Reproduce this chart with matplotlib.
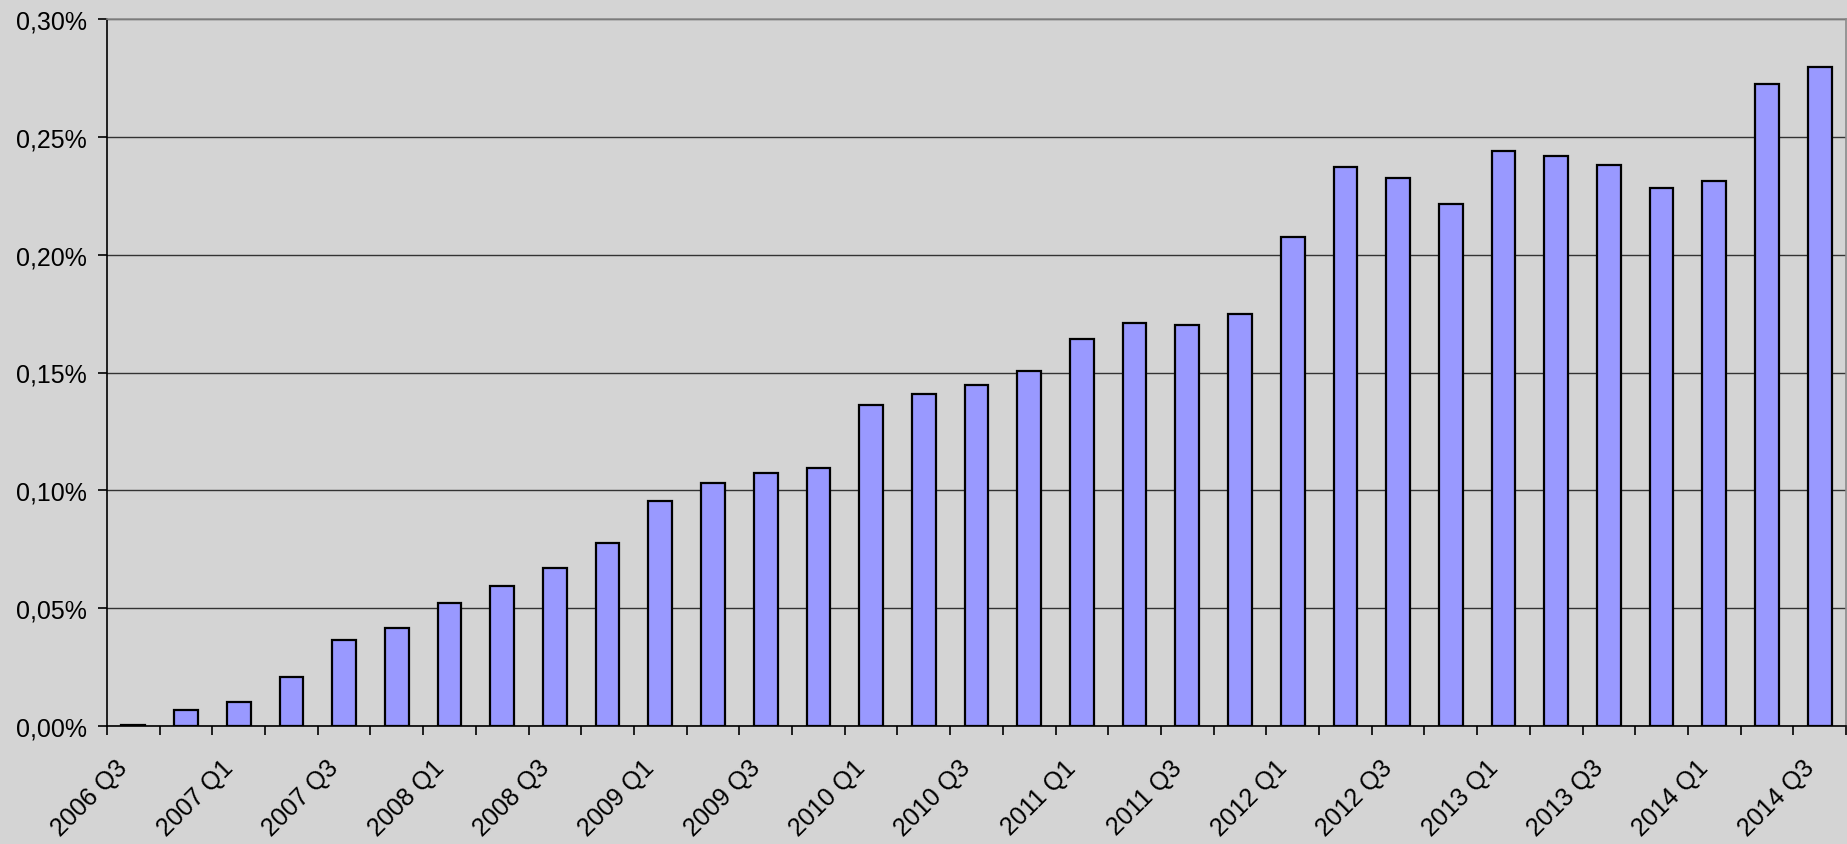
import numpy as np
import matplotlib.pyplot as plt
from matplotlib.ticker import FuncFormatter, FixedLocator

plt.rcParams['font.family'] = ['Liberation Sans', 'DejaVu Sans']

quarters = ["2006 Q3", "2006 Q4",
            "2007 Q1", "2007 Q2", "2007 Q3", "2007 Q4",
            "2008 Q1", "2008 Q2", "2008 Q3", "2008 Q4",
            "2009 Q1", "2009 Q2", "2009 Q3", "2009 Q4",
            "2010 Q1", "2010 Q2", "2010 Q3", "2010 Q4",
            "2011 Q1", "2011 Q2", "2011 Q3", "2011 Q4",
            "2012 Q1", "2012 Q2", "2012 Q3", "2012 Q4",
            "2013 Q1", "2013 Q2", "2013 Q3", "2013 Q4",
            "2014 Q1", "2014 Q2", "2014 Q3"]

# share in percent
share = [0.0006, 0.0067, 0.0103, 0.0207, 0.0364, 0.0417,
         0.0521, 0.0596, 0.0671, 0.0775,
         0.0955, 0.1030, 0.1075, 0.1095,
         0.1364, 0.1409, 0.1447, 0.1508,
         0.1641, 0.1709, 0.1702, 0.1747,
         0.2075, 0.2372, 0.2327, 0.2217,
         0.2440, 0.2417, 0.2382, 0.2283,
         0.2313, 0.2725, 0.2798]

yticks = [0.00, 0.05, 0.10, 0.15, 0.20, 0.25, 0.30]

bg = "#d4d4d4"
fig = plt.figure(figsize=(18.47, 8.45), dpi=100, facecolor=bg)
W, H = 1847, 845
ax = fig.add_axes([107 / W, 1 - 727 / H, (1846 - 107) / W, (727 - 20) / H])
ax.set_facecolor(bg)

x = np.arange(len(quarters))
ax.bar(x, share, width=0.45, color="#9999ff", edgecolor="black", linewidth=1.6, zorder=3)

ax.set_xlim(-0.5, len(quarters) - 0.5)
ax.set_ylim(0, 0.30)
ax.set_yticks(yticks)
ax.yaxis.set_major_formatter(FuncFormatter(lambda v, p: f"{v:.2f}%".replace(".", ",")))
ax.yaxis.grid(True, color="#333333", linewidth=1.0)
ax.set_axisbelow(True)

# labels on every other quarter, nudged left like the original
ax.set_xticks(x[::2] - 0.34)
ax.set_xticklabels(quarters[::2], rotation=45, ha="right", va="top", rotation_mode="anchor")
ax.xaxis.set_minor_locator(FixedLocator(np.arange(len(quarters) + 1) - 0.5))
ax.tick_params(axis="x", which="major", length=0, pad=21, labelsize=18)
ax.tick_params(axis="x", which="minor", length=6.5, width=1.2, direction="out", color="black")
ax.tick_params(axis="y", length=6.5, width=1.2, direction="out", labelsize=18, pad=8)

for side in ["left", "bottom"]:
    ax.spines[side].set_color("black")
    ax.spines[side].set_linewidth(1.2)
for side in ["top", "right"]:
    ax.spines[side].set_color("#8a8a8a")
    ax.spines[side].set_linewidth(1.2)

fig.savefig("out.png", dpi=100, facecolor=bg)
